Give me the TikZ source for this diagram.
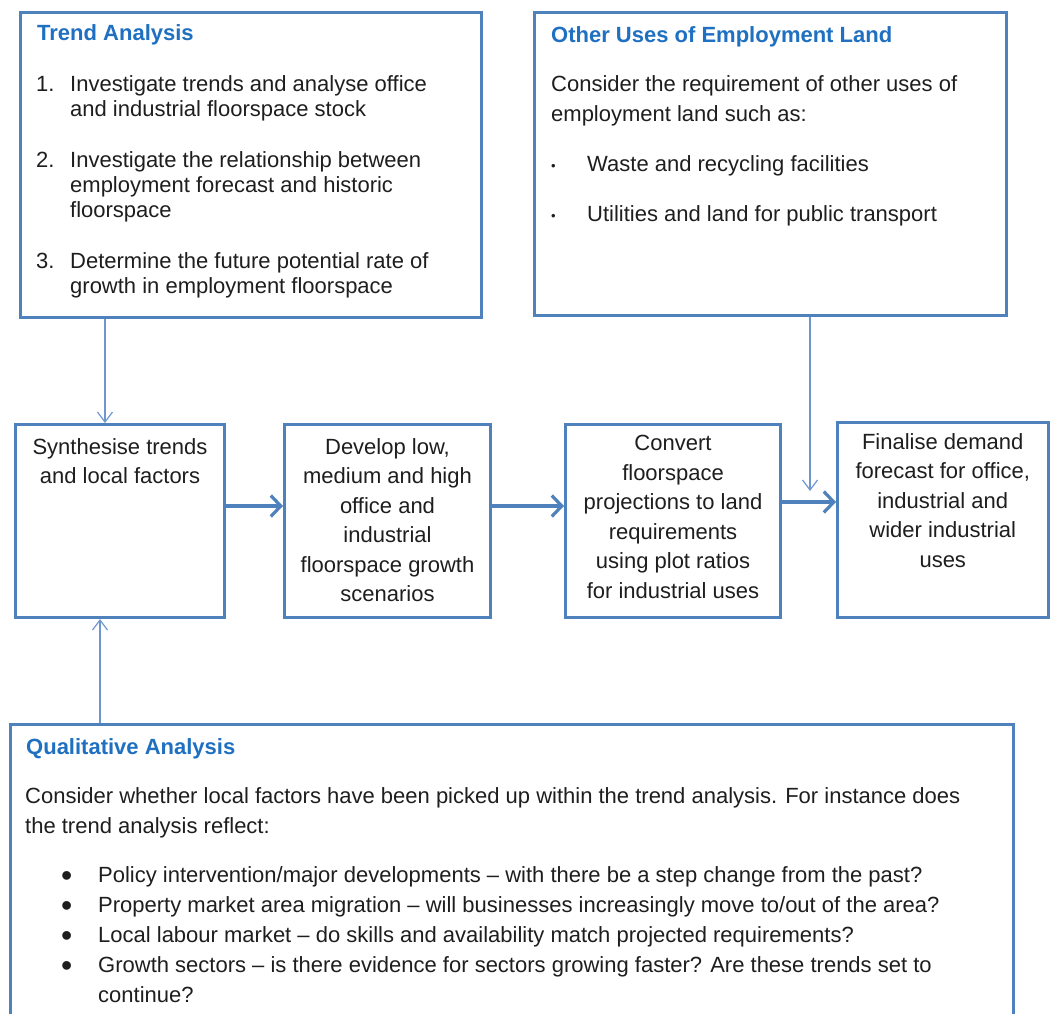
\documentclass[tikz,border=0pt]{standalone}
\usepackage{fontspec}
\setmainfont{Liberation Sans}
\usetikzlibrary{arrows.meta,calc}
\definecolor{boxblue}{HTML}{4F81BD}
\definecolor{headblue}{HTML}{1F70C1}
\definecolor{thinblue}{HTML}{6E97CE}
\definecolor{txt}{HTML}{1E1E1E}
\newcommand{\bigbul}{\raisebox{-4.5pt}{\fontsize{32}{32}\selectfont •}}
\newcommand{\smallbul}{\raisebox{1pt}{\fontsize{13}{13}\selectfont •}}
\begin{document}
\begin{tikzpicture}[x=1pt,y=-1pt,
  box/.style={draw=boxblue, line width=2.6pt, rectangle, inner sep=0pt, anchor=north west},
  body/.style={text=txt, inner sep=0pt, anchor=north west, align=left},
  flowtext/.style={text=txt, inner sep=0pt, anchor=north, align=center,
    font=\fontsize{22}{29.5}\selectfont},
  head/.style={text=headblue, font=\bfseries\fontsize{22}{26}\selectfont, inner sep=0pt, anchor=base west},
  flowarrow/.style={draw=boxblue, line width=3.2pt, -{Straight Barb[length=10pt,width=21pt]}},
  thinarrow/.style={draw=thinblue, line width=1.2pt, -{Straight Barb[length=10pt,width=15pt]}}]
\clip (0,0) rectangle (1050,1014);
\fill[white] (0,0) rectangle (1050,1014);

% boxes
\node[box, minimum width=461.4pt, minimum height=305.4pt] (trend) at (19,11) {};
\node[box, minimum width=472.4pt, minimum height=303.4pt] (other) at (533,11) {};
\node[box, minimum width=209.4pt, minimum height=193.4pt] (syn) at (14,423) {};
\node[box, minimum width=206.4pt, minimum height=193.4pt] (dev) at (283,423) {};
\node[box, minimum width=215.4pt, minimum height=193.4pt] (conv) at (564,423) {};
\node[box, minimum width=210.9pt, minimum height=195.4pt] (fin) at (836,421) {};
\node[box, minimum width=1003.4pt, minimum height=330pt] (qual) at (9,723) {};

% headings
\node[head] (trendhead) at (37,41) {Trend Analysis};
\node[head] (otherhead) at (551,43) {Other Uses of Employment Land};
\node[head] (qualhead) at (26,754) {Qualitative Analysis};

% trend text
\node[body, font=\fontsize{22}{25}\selectfont] (trendtxt) at (36,75) {%
\makebox[34pt][l]{1.}Investigate trends and analyse office\\
\hspace*{34pt}and industrial floorspace stock\\[26pt]
\makebox[34pt][l]{2.}Investigate the relationship between\\
\hspace*{34pt}employment forecast and historic\\
\hspace*{34pt}floorspace\\[26pt]
\makebox[34pt][l]{3.}Determine the future potential rate of\\
\hspace*{34pt}growth in employment floorspace};

% other uses text
\node[body, font=\fontsize{22}{30}\selectfont] (othertxt) at (551,75) {%
Consider the requirement of other uses of\\
employment land such as:\\[20pt]
\makebox[36pt][l]{\smallbul}Waste and recycling facilities\\[20pt]
\makebox[36pt][l]{\smallbul}Utilities and land for public transport};

% flow box texts
\node[flowtext] (syntxt) at ($(syn.north)+(0,15)$) {Synthesise trends\\and local factors};
\node[flowtext] (devtxt) at ($(dev.north)+(0,15)$) {Develop low,\\medium and high\\office and\\industrial\\floorspace growth\\scenarios};
\node[flowtext] (convtxt) at ($(conv.north)+(0,12)$) {Convert\\floorspace\\projections to land\\requirements\\using plot ratios\\for industrial uses};
\node[flowtext] (fintxt) at ($(fin.north)+(0,12)$) {Finalise demand\\forecast for office,\\industrial and\\wider industrial\\uses};

% qualitative text
\node[body, font=\fontsize{22}{30}\selectfont] (qualtxt) at (25,787) {%
Consider whether local factors have been picked up within the trend analysis. For instance does\\
the trend analysis reflect:\\[19pt]
\hspace*{36pt}\makebox[37pt][l]{\bigbul}Policy intervention/major developments -- with there be a step change from the past?\\
\hspace*{36pt}\makebox[37pt][l]{\bigbul}Property market area migration -- will businesses increasingly move to/out of the area?\\
\hspace*{36pt}\makebox[37pt][l]{\bigbul}Local labour market -- do skills and availability match projected requirements?\\
\hspace*{36pt}\makebox[37pt][l]{\bigbul}Growth sectors -- is there evidence for sectors growing faster? Are these trends set to\\
\hspace*{73pt}continue?};

% connectors
\draw[flowarrow] ([yshift=15pt]syn.east) -- ([yshift=15pt]dev.west);
\draw[flowarrow] ([yshift=15pt]dev.east) -- ([yshift=15pt]conv.west);
\draw[flowarrow] ([yshift=19pt]conv.east) -- ([yshift=19pt]conv.east -| fin.west);
\coordinate (t1) at ([xshift=86pt]trend.south west);
\draw[thinarrow] (t1) -- (t1 |- syn.north);
\coordinate (q1) at ([xshift=91pt]qual.north west);
\draw[thinarrow] (q1) -- (q1 |- syn.south);
\coordinate (o1) at ([xshift=277pt]other.south west);
\coordinate (o2) at ($([yshift=19pt]conv.east -| o1)+(0,-11)$);
\draw[thinarrow] (o1) -- (o2);
\end{tikzpicture}
\end{document}
